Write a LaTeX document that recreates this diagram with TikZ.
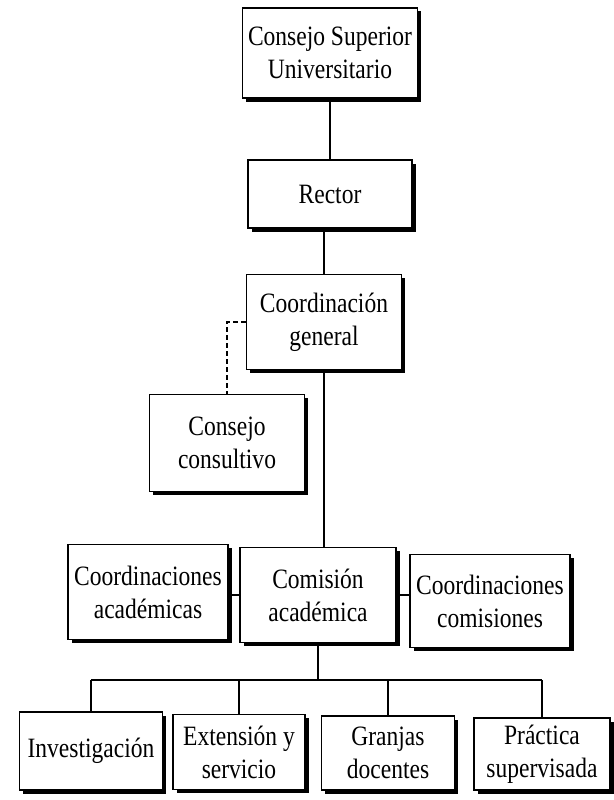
\documentclass[tikz,border=0pt]{standalone}
\usepackage{fontspec}
\setmainfont{Liberation Serif}[FakeStretch=0.84]
\usetikzlibrary{shadows}

\begin{document}
\begin{tikzpicture}[x=1pt,y=-1pt,
        box/.style={draw, fill=white, line width=1.1pt, align=center,
            inner sep=2pt, font=\fontsize{28}{33}\selectfont,
            drop shadow={shadow xshift=3.5pt, shadow yshift=-3.5pt, opacity=1, fill=black}},
        link/.style={line width=1.1pt}]
        \useasboundingbox (0,0) rectangle (613,800);

        % Top of the chart
        \node[box, minimum width=175pt, minimum height=90pt] (csu) at (330,53) {Consejo Superior\\Universitario};
        \node[box, minimum width=164pt, minimum height=68pt] (rector) at (330,194) {Rector};
        \node[box, minimum width=155pt, minimum height=95pt] (cgen) at (324,322) {Coordinación\\general};
        \node[box, minimum width=155pt, minimum height=97pt] (ccons) at (227,443) {Consejo\\consultivo};

        % Middle row
        \node[box, minimum width=160pt, minimum height=95pt] (cacad) at (148,592) {Coordinaciones\\académicas};
        \node[box, minimum width=156pt, minimum height=95pt] (comis) at (318,595) {Comisión\\académica};
        \node[box, minimum width=160pt, minimum height=93pt] (ccomi) at (490,601) {Coordinaciones\\comisiones};

        % Bottom row
        \node[box, minimum width=143pt, minimum height=78pt] (inv) at (91,751) {Investigación};
        \node[box, minimum width=132pt, minimum height=75pt] (ext) at (239,752) {Extensión y\\servicio};
        \node[box, minimum width=133pt, minimum height=74pt] (gra) at (388,753) {Granjas\\docentes};
        \node[box, minimum width=136pt, minimum height=72pt] (pra) at (542,754) {Práctica\\supervisada};

        \coordinate (bus) at (314,680);

        % Connectors
        \draw[link] (csu.south) -- (rector.north);
        \draw[link] (cgen.north) -- (cgen.north |- rector.south);
        \draw[link, dashed, dash pattern=on 5pt off 3pt] (cgen.west) -| (ccons.north);
        \draw[link] (cgen.south) -- (cgen.south |- comis.north);
        \draw[link] (comis.west) -- (comis.west -| cacad.east);
        \draw[link] (comis.east) -- (comis.east -| ccomi.west);
        \draw[link] (comis.south) -- (comis.south |- bus);
        \draw[link] (inv.north |- bus) -- (pra.north |- bus);
        \foreach \n in {inv,ext,gra,pra}
            \draw[link] (\n.north) -- (\n.north |- bus);
\end{tikzpicture}
\end{document}
